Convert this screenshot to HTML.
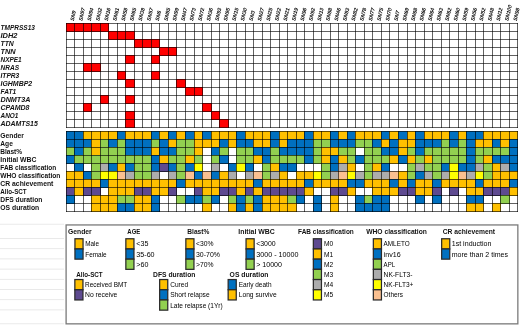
<!DOCTYPE html>
<html><head><meta charset="utf-8"><title>Mutation heatmap</title>
<style>html,body{margin:0;padding:0;background:#fff}body{width:520px;height:326px;overflow:hidden;font-family:"Liberation Sans",sans-serif}svg{display:block;will-change:transform}</style></head>
<body>
<svg width="520" height="326" viewBox="0 0 520 326" font-family="'Liberation Sans', sans-serif">
<rect width="520" height="326" fill="#fff"/>
<rect x="0" y="223.80" width="64" height="0.8" fill="#e4e4e4"/>
<rect x="0" y="238.10" width="64" height="0.8" fill="#e4e4e4"/>
<rect x="0" y="248.30" width="64" height="0.8" fill="#e4e4e4"/>
<rect x="0" y="258.50" width="64" height="0.8" fill="#e4e4e4"/>
<rect x="0" y="268.70" width="64" height="0.8" fill="#e4e4e4"/>
<rect x="0" y="278.90" width="64" height="0.8" fill="#e4e4e4"/>
<rect x="0" y="289.10" width="64" height="0.8" fill="#e4e4e4"/>
<rect x="0" y="299.30" width="64" height="0.8" fill="#e4e4e4"/>
<rect x="0" y="309.50" width="64" height="0.8" fill="#e4e4e4"/>
<rect x="0" y="323.40" width="64" height="0.8" fill="#e4e4e4"/>
<rect x="66" y="23" width="9" height="9" fill="#FF0000"/>
<rect x="74" y="23" width="10" height="9" fill="#FF0000"/>
<rect x="83" y="23" width="9" height="9" fill="#FF0000"/>
<rect x="91" y="23" width="10" height="9" fill="#FF0000"/>
<rect x="100" y="23" width="9" height="9" fill="#FF0000"/>
<rect x="108" y="31" width="10" height="9" fill="#FF0000"/>
<rect x="117" y="31" width="9" height="9" fill="#FF0000"/>
<rect x="125" y="31" width="10" height="9" fill="#FF0000"/>
<rect x="134" y="39" width="9" height="9" fill="#FF0000"/>
<rect x="142" y="39" width="10" height="9" fill="#FF0000"/>
<rect x="151" y="39" width="9" height="9" fill="#FF0000"/>
<rect x="159" y="47" width="10" height="9" fill="#FF0000"/>
<rect x="168" y="47" width="9" height="9" fill="#FF0000"/>
<rect x="125" y="55" width="10" height="9" fill="#FF0000"/>
<rect x="151" y="55" width="9" height="9" fill="#FF0000"/>
<rect x="83" y="63" width="9" height="9" fill="#FF0000"/>
<rect x="91" y="63" width="10" height="9" fill="#FF0000"/>
<rect x="117" y="71" width="9" height="9" fill="#FF0000"/>
<rect x="151" y="71" width="9" height="9" fill="#FF0000"/>
<rect x="125" y="79" width="10" height="9" fill="#FF0000"/>
<rect x="176" y="79" width="10" height="9" fill="#FF0000"/>
<rect x="185" y="87" width="10" height="9" fill="#FF0000"/>
<rect x="194" y="87" width="9" height="9" fill="#FF0000"/>
<rect x="100" y="95" width="9" height="9" fill="#FF0000"/>
<rect x="125" y="95" width="10" height="9" fill="#FF0000"/>
<rect x="83" y="103" width="9" height="9" fill="#FF0000"/>
<rect x="202" y="103" width="10" height="9" fill="#FF0000"/>
<rect x="125" y="111" width="10" height="9" fill="#FF0000"/>
<rect x="211" y="111" width="9" height="9" fill="#FF0000"/>
<rect x="125" y="119" width="10" height="9" fill="#FF0000"/>
<rect x="219" y="119" width="10" height="9" fill="#FF0000"/>
<path d="M66.50 23.00V128.00M74.50 23.00V128.00M83.50 23.00V128.00M91.50 23.00V128.00M100.50 23.00V128.00M108.50 23.00V128.00M117.50 23.00V128.00M125.50 23.00V128.00M134.50 23.00V128.00M142.50 23.00V128.00M151.50 23.00V128.00M159.50 23.00V128.00M168.50 23.00V128.00M176.50 23.00V128.00M185.50 23.00V128.00M194.50 23.00V128.00M202.50 23.00V128.00M211.50 23.00V128.00M219.50 23.00V128.00M228.50 23.00V128.00M236.50 23.00V128.00M245.50 23.00V128.00M253.50 23.00V128.00M262.50 23.00V128.00M270.50 23.00V128.00M279.50 23.00V128.00M287.50 23.00V128.00M296.50 23.00V128.00M304.50 23.00V128.00M313.50 23.00V128.00M321.50 23.00V128.00M330.50 23.00V128.00M338.50 23.00V128.00M347.50 23.00V128.00M355.50 23.00V128.00M364.50 23.00V128.00M372.50 23.00V128.00M381.50 23.00V128.00M389.50 23.00V128.00M398.50 23.00V128.00M407.50 23.00V128.00M415.50 23.00V128.00M424.50 23.00V128.00M432.50 23.00V128.00M441.50 23.00V128.00M449.50 23.00V128.00M458.50 23.00V128.00M466.50 23.00V128.00M475.50 23.00V128.00M483.50 23.00V128.00M492.50 23.00V128.00M500.50 23.00V128.00M509.50 23.00V128.00M517.50 23.00V128.00M66.00 23.50H518.00M66.00 31.50H518.00M66.00 39.50H518.00M66.00 47.50H518.00M66.00 55.50H518.00M66.00 63.50H518.00M66.00 71.50H518.00M66.00 79.50H518.00M66.00 87.50H518.00M66.00 95.50H518.00M66.00 103.50H518.00M66.00 111.50H518.00M66.00 119.50H518.00M66.00 127.50H518.00" stroke="#000" stroke-opacity="0.62" stroke-width="1" fill="none"/>
<rect x="66" y="131" width="9" height="9" fill="#0070C0"/>
<rect x="74" y="131" width="10" height="9" fill="#0070C0"/>
<rect x="83" y="131" width="9" height="9" fill="#FFC000"/>
<rect x="91" y="131" width="10" height="9" fill="#FFC000"/>
<rect x="100" y="131" width="9" height="9" fill="#FFC000"/>
<rect x="108" y="131" width="10" height="9" fill="#FFC000"/>
<rect x="117" y="131" width="9" height="9" fill="#0070C0"/>
<rect x="125" y="131" width="10" height="9" fill="#FFC000"/>
<rect x="134" y="131" width="9" height="9" fill="#FFC000"/>
<rect x="142" y="131" width="10" height="9" fill="#FFC000"/>
<rect x="151" y="131" width="9" height="9" fill="#0070C0"/>
<rect x="159" y="131" width="10" height="9" fill="#FFC000"/>
<rect x="168" y="131" width="9" height="9" fill="#0070C0"/>
<rect x="176" y="131" width="10" height="9" fill="#FFC000"/>
<rect x="185" y="131" width="10" height="9" fill="#0070C0"/>
<rect x="194" y="131" width="9" height="9" fill="#FFC000"/>
<rect x="202" y="131" width="10" height="9" fill="#0070C0"/>
<rect x="211" y="131" width="9" height="9" fill="#FFC000"/>
<rect x="219" y="131" width="10" height="9" fill="#FFC000"/>
<rect x="228" y="131" width="9" height="9" fill="#FFC000"/>
<rect x="236" y="131" width="10" height="9" fill="#0070C0"/>
<rect x="245" y="131" width="9" height="9" fill="#FFC000"/>
<rect x="253" y="131" width="10" height="9" fill="#FFC000"/>
<rect x="262" y="131" width="9" height="9" fill="#FFC000"/>
<rect x="270" y="131" width="10" height="9" fill="#0070C0"/>
<rect x="279" y="131" width="9" height="9" fill="#FFC000"/>
<rect x="287" y="131" width="10" height="9" fill="#FFC000"/>
<rect x="296" y="131" width="9" height="9" fill="#FFC000"/>
<rect x="304" y="131" width="10" height="9" fill="#0070C0"/>
<rect x="313" y="131" width="9" height="9" fill="#FFC000"/>
<rect x="321" y="131" width="10" height="9" fill="#FFC000"/>
<rect x="330" y="131" width="9" height="9" fill="#0070C0"/>
<rect x="338" y="131" width="10" height="9" fill="#FFC000"/>
<rect x="347" y="131" width="9" height="9" fill="#0070C0"/>
<rect x="355" y="131" width="10" height="9" fill="#FFC000"/>
<rect x="364" y="131" width="9" height="9" fill="#FFC000"/>
<rect x="372" y="131" width="10" height="9" fill="#FFC000"/>
<rect x="381" y="131" width="9" height="9" fill="#0070C0"/>
<rect x="389" y="131" width="10" height="9" fill="#FFC000"/>
<rect x="398" y="131" width="10" height="9" fill="#0070C0"/>
<rect x="407" y="131" width="9" height="9" fill="#FFC000"/>
<rect x="415" y="131" width="10" height="9" fill="#0070C0"/>
<rect x="424" y="131" width="9" height="9" fill="#FFC000"/>
<rect x="432" y="131" width="10" height="9" fill="#FFC000"/>
<rect x="441" y="131" width="9" height="9" fill="#FFC000"/>
<rect x="449" y="131" width="10" height="9" fill="#0070C0"/>
<rect x="458" y="131" width="9" height="9" fill="#FFC000"/>
<rect x="466" y="131" width="10" height="9" fill="#0070C0"/>
<rect x="475" y="131" width="9" height="9" fill="#0070C0"/>
<rect x="483" y="131" width="10" height="9" fill="#FFC000"/>
<rect x="492" y="131" width="9" height="9" fill="#FFC000"/>
<rect x="500" y="131" width="10" height="9" fill="#FFC000"/>
<rect x="509" y="131" width="9" height="9" fill="#FFC000"/>
<rect x="66" y="139" width="9" height="9" fill="#0070C0"/>
<rect x="74" y="139" width="10" height="9" fill="#0070C0"/>
<rect x="83" y="139" width="9" height="9" fill="#0070C0"/>
<rect x="91" y="139" width="10" height="9" fill="#FFC000"/>
<rect x="100" y="139" width="9" height="9" fill="#92D050"/>
<rect x="108" y="139" width="10" height="9" fill="#0070C0"/>
<rect x="117" y="139" width="9" height="9" fill="#92D050"/>
<rect x="125" y="139" width="10" height="9" fill="#0070C0"/>
<rect x="134" y="139" width="9" height="9" fill="#0070C0"/>
<rect x="142" y="139" width="10" height="9" fill="#0070C0"/>
<rect x="151" y="139" width="9" height="9" fill="#92D050"/>
<rect x="159" y="139" width="10" height="9" fill="#0070C0"/>
<rect x="168" y="139" width="9" height="9" fill="#FFC000"/>
<rect x="176" y="139" width="10" height="9" fill="#92D050"/>
<rect x="185" y="139" width="10" height="9" fill="#92D050"/>
<rect x="194" y="139" width="9" height="9" fill="#FFC000"/>
<rect x="202" y="139" width="10" height="9" fill="#FFC000"/>
<rect x="211" y="139" width="9" height="9" fill="#FFC000"/>
<rect x="219" y="139" width="10" height="9" fill="#0070C0"/>
<rect x="228" y="139" width="9" height="9" fill="#FFC000"/>
<rect x="236" y="139" width="10" height="9" fill="#0070C0"/>
<rect x="245" y="139" width="9" height="9" fill="#0070C0"/>
<rect x="253" y="139" width="10" height="9" fill="#FFC000"/>
<rect x="262" y="139" width="9" height="9" fill="#FFC000"/>
<rect x="270" y="139" width="10" height="9" fill="#0070C0"/>
<rect x="279" y="139" width="9" height="9" fill="#FFC000"/>
<rect x="287" y="139" width="10" height="9" fill="#0070C0"/>
<rect x="296" y="139" width="9" height="9" fill="#0070C0"/>
<rect x="304" y="139" width="10" height="9" fill="#0070C0"/>
<rect x="313" y="139" width="9" height="9" fill="#92D050"/>
<rect x="321" y="139" width="10" height="9" fill="#92D050"/>
<rect x="330" y="139" width="9" height="9" fill="#0070C0"/>
<rect x="338" y="139" width="10" height="9" fill="#0070C0"/>
<rect x="347" y="139" width="9" height="9" fill="#0070C0"/>
<rect x="355" y="139" width="10" height="9" fill="#92D050"/>
<rect x="364" y="139" width="9" height="9" fill="#92D050"/>
<rect x="372" y="139" width="10" height="9" fill="#0070C0"/>
<rect x="381" y="139" width="9" height="9" fill="#FFC000"/>
<rect x="389" y="139" width="10" height="9" fill="#0070C0"/>
<rect x="398" y="139" width="10" height="9" fill="#FFC000"/>
<rect x="407" y="139" width="9" height="9" fill="#FFC000"/>
<rect x="415" y="139" width="10" height="9" fill="#0070C0"/>
<rect x="424" y="139" width="9" height="9" fill="#0070C0"/>
<rect x="432" y="139" width="10" height="9" fill="#0070C0"/>
<rect x="441" y="139" width="9" height="9" fill="#92D050"/>
<rect x="449" y="139" width="10" height="9" fill="#0070C0"/>
<rect x="458" y="139" width="9" height="9" fill="#92D050"/>
<rect x="466" y="139" width="10" height="9" fill="#0070C0"/>
<rect x="475" y="139" width="9" height="9" fill="#FFC000"/>
<rect x="483" y="139" width="10" height="9" fill="#FFC000"/>
<rect x="492" y="139" width="9" height="9" fill="#0070C0"/>
<rect x="500" y="139" width="10" height="9" fill="#FFC000"/>
<rect x="509" y="139" width="9" height="9" fill="#0070C0"/>
<rect x="66" y="147" width="9" height="9" fill="#92D050"/>
<rect x="74" y="147" width="10" height="9" fill="#0070C0"/>
<rect x="83" y="147" width="9" height="9" fill="#92D050"/>
<rect x="91" y="147" width="10" height="9" fill="#FFC000"/>
<rect x="100" y="147" width="9" height="9" fill="#92D050"/>
<rect x="108" y="147" width="10" height="9" fill="#92D050"/>
<rect x="117" y="147" width="9" height="9" fill="#92D050"/>
<rect x="125" y="147" width="10" height="9" fill="#0070C0"/>
<rect x="134" y="147" width="9" height="9" fill="#0070C0"/>
<rect x="142" y="147" width="10" height="9" fill="#0070C0"/>
<rect x="151" y="147" width="9" height="9" fill="#FFC000"/>
<rect x="159" y="147" width="10" height="9" fill="#0070C0"/>
<rect x="168" y="147" width="9" height="9" fill="#0070C0"/>
<rect x="176" y="147" width="10" height="9" fill="#92D050"/>
<rect x="185" y="147" width="10" height="9" fill="#92D050"/>
<rect x="194" y="147" width="9" height="9" fill="#FFC000"/>
<rect x="211" y="147" width="9" height="9" fill="#0070C0"/>
<rect x="219" y="147" width="10" height="9" fill="#92D050"/>
<rect x="236" y="147" width="10" height="9" fill="#92D050"/>
<rect x="245" y="147" width="9" height="9" fill="#92D050"/>
<rect x="253" y="147" width="10" height="9" fill="#0070C0"/>
<rect x="262" y="147" width="9" height="9" fill="#0070C0"/>
<rect x="270" y="147" width="10" height="9" fill="#92D050"/>
<rect x="279" y="147" width="9" height="9" fill="#0070C0"/>
<rect x="287" y="147" width="10" height="9" fill="#0070C0"/>
<rect x="296" y="147" width="9" height="9" fill="#0070C0"/>
<rect x="304" y="147" width="10" height="9" fill="#0070C0"/>
<rect x="313" y="147" width="9" height="9" fill="#92D050"/>
<rect x="321" y="147" width="10" height="9" fill="#FFC000"/>
<rect x="330" y="147" width="9" height="9" fill="#FFC000"/>
<rect x="338" y="147" width="10" height="9" fill="#92D050"/>
<rect x="347" y="147" width="9" height="9" fill="#92D050"/>
<rect x="364" y="147" width="9" height="9" fill="#92D050"/>
<rect x="372" y="147" width="10" height="9" fill="#92D050"/>
<rect x="381" y="147" width="9" height="9" fill="#0070C0"/>
<rect x="389" y="147" width="10" height="9" fill="#0070C0"/>
<rect x="398" y="147" width="10" height="9" fill="#FFC000"/>
<rect x="407" y="147" width="9" height="9" fill="#92D050"/>
<rect x="415" y="147" width="10" height="9" fill="#0070C0"/>
<rect x="424" y="147" width="9" height="9" fill="#92D050"/>
<rect x="432" y="147" width="10" height="9" fill="#92D050"/>
<rect x="441" y="147" width="9" height="9" fill="#92D050"/>
<rect x="449" y="147" width="10" height="9" fill="#92D050"/>
<rect x="458" y="147" width="9" height="9" fill="#92D050"/>
<rect x="466" y="147" width="10" height="9" fill="#0070C0"/>
<rect x="475" y="147" width="9" height="9" fill="#92D050"/>
<rect x="483" y="147" width="10" height="9" fill="#92D050"/>
<rect x="492" y="147" width="9" height="9" fill="#92D050"/>
<rect x="500" y="147" width="10" height="9" fill="#92D050"/>
<rect x="509" y="147" width="9" height="9" fill="#0070C0"/>
<rect x="66" y="155" width="9" height="9" fill="#0070C0"/>
<rect x="74" y="155" width="10" height="9" fill="#92D050"/>
<rect x="83" y="155" width="9" height="9" fill="#92D050"/>
<rect x="91" y="155" width="10" height="9" fill="#92D050"/>
<rect x="100" y="155" width="9" height="9" fill="#92D050"/>
<rect x="108" y="155" width="10" height="9" fill="#92D050"/>
<rect x="117" y="155" width="9" height="9" fill="#92D050"/>
<rect x="125" y="155" width="10" height="9" fill="#92D050"/>
<rect x="134" y="155" width="9" height="9" fill="#92D050"/>
<rect x="142" y="155" width="10" height="9" fill="#92D050"/>
<rect x="151" y="155" width="9" height="9" fill="#0070C0"/>
<rect x="159" y="155" width="10" height="9" fill="#FFC000"/>
<rect x="168" y="155" width="9" height="9" fill="#92D050"/>
<rect x="176" y="155" width="10" height="9" fill="#92D050"/>
<rect x="185" y="155" width="10" height="9" fill="#FFC000"/>
<rect x="194" y="155" width="9" height="9" fill="#92D050"/>
<rect x="211" y="155" width="9" height="9" fill="#92D050"/>
<rect x="219" y="155" width="10" height="9" fill="#0070C0"/>
<rect x="236" y="155" width="10" height="9" fill="#92D050"/>
<rect x="245" y="155" width="9" height="9" fill="#92D050"/>
<rect x="253" y="155" width="10" height="9" fill="#FFC000"/>
<rect x="262" y="155" width="9" height="9" fill="#0070C0"/>
<rect x="270" y="155" width="10" height="9" fill="#92D050"/>
<rect x="279" y="155" width="9" height="9" fill="#92D050"/>
<rect x="287" y="155" width="10" height="9" fill="#92D050"/>
<rect x="296" y="155" width="9" height="9" fill="#92D050"/>
<rect x="304" y="155" width="10" height="9" fill="#0070C0"/>
<rect x="313" y="155" width="9" height="9" fill="#92D050"/>
<rect x="321" y="155" width="10" height="9" fill="#FFC000"/>
<rect x="330" y="155" width="9" height="9" fill="#0070C0"/>
<rect x="338" y="155" width="10" height="9" fill="#FFC000"/>
<rect x="347" y="155" width="9" height="9" fill="#92D050"/>
<rect x="355" y="155" width="10" height="9" fill="#0070C0"/>
<rect x="364" y="155" width="9" height="9" fill="#92D050"/>
<rect x="372" y="155" width="10" height="9" fill="#92D050"/>
<rect x="381" y="155" width="9" height="9" fill="#92D050"/>
<rect x="389" y="155" width="10" height="9" fill="#FFC000"/>
<rect x="398" y="155" width="10" height="9" fill="#0070C0"/>
<rect x="407" y="155" width="9" height="9" fill="#FFC000"/>
<rect x="415" y="155" width="10" height="9" fill="#92D050"/>
<rect x="424" y="155" width="9" height="9" fill="#FFC000"/>
<rect x="432" y="155" width="10" height="9" fill="#92D050"/>
<rect x="441" y="155" width="9" height="9" fill="#92D050"/>
<rect x="449" y="155" width="10" height="9" fill="#92D050"/>
<rect x="458" y="155" width="9" height="9" fill="#92D050"/>
<rect x="466" y="155" width="10" height="9" fill="#0070C0"/>
<rect x="475" y="155" width="9" height="9" fill="#92D050"/>
<rect x="483" y="155" width="10" height="9" fill="#FFC000"/>
<rect x="492" y="155" width="9" height="9" fill="#0070C0"/>
<rect x="500" y="155" width="10" height="9" fill="#0070C0"/>
<rect x="509" y="155" width="9" height="9" fill="#0070C0"/>
<rect x="74" y="163" width="10" height="9" fill="#0070C0"/>
<rect x="91" y="163" width="10" height="9" fill="#92D050"/>
<rect x="100" y="163" width="9" height="9" fill="#ADADAD"/>
<rect x="108" y="163" width="10" height="9" fill="#0070C0"/>
<rect x="117" y="163" width="9" height="9" fill="#FFC000"/>
<rect x="125" y="163" width="10" height="9" fill="#0070C0"/>
<rect x="134" y="163" width="9" height="9" fill="#92D050"/>
<rect x="142" y="163" width="10" height="9" fill="#92D050"/>
<rect x="151" y="163" width="9" height="9" fill="#0070C0"/>
<rect x="159" y="163" width="10" height="9" fill="#5E4A90"/>
<rect x="168" y="163" width="9" height="9" fill="#0070C0"/>
<rect x="176" y="163" width="10" height="9" fill="#92D050"/>
<rect x="185" y="163" width="10" height="9" fill="#0070C0"/>
<rect x="194" y="163" width="9" height="9" fill="#FFFF00"/>
<rect x="211" y="163" width="9" height="9" fill="#ADADAD"/>
<rect x="228" y="163" width="9" height="9" fill="#0070C0"/>
<rect x="236" y="163" width="10" height="9" fill="#FFFF00"/>
<rect x="245" y="163" width="9" height="9" fill="#0070C0"/>
<rect x="262" y="163" width="9" height="9" fill="#92D050"/>
<rect x="270" y="163" width="10" height="9" fill="#FFC000"/>
<rect x="279" y="163" width="9" height="9" fill="#0070C0"/>
<rect x="287" y="163" width="10" height="9" fill="#0070C0"/>
<rect x="321" y="163" width="10" height="9" fill="#92D050"/>
<rect x="330" y="163" width="9" height="9" fill="#0070C0"/>
<rect x="338" y="163" width="10" height="9" fill="#ADADAD"/>
<rect x="347" y="163" width="9" height="9" fill="#FFC000"/>
<rect x="364" y="163" width="9" height="9" fill="#92D050"/>
<rect x="372" y="163" width="10" height="9" fill="#FFC000"/>
<rect x="381" y="163" width="9" height="9" fill="#0070C0"/>
<rect x="407" y="163" width="9" height="9" fill="#92D050"/>
<rect x="415" y="163" width="10" height="9" fill="#ADADAD"/>
<rect x="424" y="163" width="9" height="9" fill="#92D050"/>
<rect x="432" y="163" width="10" height="9" fill="#92D050"/>
<rect x="441" y="163" width="9" height="9" fill="#0070C0"/>
<rect x="449" y="163" width="10" height="9" fill="#FFFF00"/>
<rect x="458" y="163" width="9" height="9" fill="#0070C0"/>
<rect x="466" y="163" width="10" height="9" fill="#0070C0"/>
<rect x="475" y="163" width="9" height="9" fill="#ADADAD"/>
<rect x="483" y="163" width="10" height="9" fill="#92D050"/>
<rect x="492" y="163" width="9" height="9" fill="#FFC000"/>
<rect x="500" y="163" width="10" height="9" fill="#ADADAD"/>
<rect x="509" y="163" width="9" height="9" fill="#0070C0"/>
<rect x="66" y="171" width="9" height="9" fill="#FFC000"/>
<rect x="74" y="171" width="10" height="9" fill="#FFC000"/>
<rect x="83" y="171" width="9" height="9" fill="#0070C0"/>
<rect x="91" y="171" width="10" height="9" fill="#92D050"/>
<rect x="100" y="171" width="9" height="9" fill="#FFFF00"/>
<rect x="108" y="171" width="10" height="9" fill="#FFFF00"/>
<rect x="117" y="171" width="9" height="9" fill="#FAC090"/>
<rect x="125" y="171" width="10" height="9" fill="#ADADAD"/>
<rect x="134" y="171" width="9" height="9" fill="#92D050"/>
<rect x="142" y="171" width="10" height="9" fill="#92D050"/>
<rect x="151" y="171" width="9" height="9" fill="#ADADAD"/>
<rect x="168" y="171" width="9" height="9" fill="#ADADAD"/>
<rect x="176" y="171" width="10" height="9" fill="#92D050"/>
<rect x="185" y="171" width="10" height="9" fill="#FAC090"/>
<rect x="194" y="171" width="9" height="9" fill="#0070C0"/>
<rect x="202" y="171" width="10" height="9" fill="#FAC090"/>
<rect x="211" y="171" width="9" height="9" fill="#0070C0"/>
<rect x="219" y="171" width="10" height="9" fill="#FFC000"/>
<rect x="228" y="171" width="9" height="9" fill="#ADADAD"/>
<rect x="245" y="171" width="9" height="9" fill="#ADADAD"/>
<rect x="253" y="171" width="10" height="9" fill="#FAC090"/>
<rect x="262" y="171" width="9" height="9" fill="#92D050"/>
<rect x="270" y="171" width="10" height="9" fill="#ADADAD"/>
<rect x="279" y="171" width="9" height="9" fill="#FFC000"/>
<rect x="296" y="171" width="9" height="9" fill="#FFC000"/>
<rect x="304" y="171" width="10" height="9" fill="#FFC000"/>
<rect x="313" y="171" width="9" height="9" fill="#FFFF00"/>
<rect x="321" y="171" width="10" height="9" fill="#92D050"/>
<rect x="330" y="171" width="9" height="9" fill="#ADADAD"/>
<rect x="338" y="171" width="10" height="9" fill="#FAC090"/>
<rect x="347" y="171" width="9" height="9" fill="#FFFF00"/>
<rect x="355" y="171" width="10" height="9" fill="#ADADAD"/>
<rect x="364" y="171" width="9" height="9" fill="#92D050"/>
<rect x="372" y="171" width="10" height="9" fill="#ADADAD"/>
<rect x="381" y="171" width="9" height="9" fill="#ADADAD"/>
<rect x="389" y="171" width="10" height="9" fill="#FAC090"/>
<rect x="398" y="171" width="10" height="9" fill="#FFC000"/>
<rect x="407" y="171" width="9" height="9" fill="#92D050"/>
<rect x="415" y="171" width="10" height="9" fill="#0070C0"/>
<rect x="424" y="171" width="9" height="9" fill="#ADADAD"/>
<rect x="432" y="171" width="10" height="9" fill="#92D050"/>
<rect x="441" y="171" width="9" height="9" fill="#ADADAD"/>
<rect x="449" y="171" width="10" height="9" fill="#FFFF00"/>
<rect x="458" y="171" width="9" height="9" fill="#FAC090"/>
<rect x="466" y="171" width="10" height="9" fill="#ADADAD"/>
<rect x="475" y="171" width="9" height="9" fill="#FFFF00"/>
<rect x="483" y="171" width="10" height="9" fill="#92D050"/>
<rect x="492" y="171" width="9" height="9" fill="#FFC000"/>
<rect x="500" y="171" width="10" height="9" fill="#FFC000"/>
<rect x="509" y="171" width="9" height="9" fill="#FFC000"/>
<rect x="66" y="179" width="9" height="9" fill="#FFC000"/>
<rect x="74" y="179" width="10" height="9" fill="#FFC000"/>
<rect x="83" y="179" width="9" height="9" fill="#FFC000"/>
<rect x="91" y="179" width="10" height="9" fill="#FFC000"/>
<rect x="100" y="179" width="9" height="9" fill="#0070C0"/>
<rect x="108" y="179" width="10" height="9" fill="#FFC000"/>
<rect x="117" y="179" width="9" height="9" fill="#FFC000"/>
<rect x="125" y="179" width="10" height="9" fill="#FFC000"/>
<rect x="134" y="179" width="9" height="9" fill="#FFC000"/>
<rect x="142" y="179" width="10" height="9" fill="#FFC000"/>
<rect x="151" y="179" width="9" height="9" fill="#FFC000"/>
<rect x="159" y="179" width="10" height="9" fill="#FFC000"/>
<rect x="168" y="179" width="9" height="9" fill="#FFC000"/>
<rect x="176" y="179" width="10" height="9" fill="#0070C0"/>
<rect x="185" y="179" width="10" height="9" fill="#FFC000"/>
<rect x="194" y="179" width="9" height="9" fill="#FFC000"/>
<rect x="202" y="179" width="10" height="9" fill="#FFC000"/>
<rect x="211" y="179" width="9" height="9" fill="#FFC000"/>
<rect x="219" y="179" width="10" height="9" fill="#FFC000"/>
<rect x="228" y="179" width="9" height="9" fill="#FFC000"/>
<rect x="236" y="179" width="10" height="9" fill="#FFC000"/>
<rect x="245" y="179" width="9" height="9" fill="#FFC000"/>
<rect x="253" y="179" width="10" height="9" fill="#0070C0"/>
<rect x="262" y="179" width="9" height="9" fill="#FFC000"/>
<rect x="270" y="179" width="10" height="9" fill="#FFC000"/>
<rect x="279" y="179" width="9" height="9" fill="#FFC000"/>
<rect x="287" y="179" width="10" height="9" fill="#FFC000"/>
<rect x="296" y="179" width="9" height="9" fill="#FFC000"/>
<rect x="304" y="179" width="10" height="9" fill="#0070C0"/>
<rect x="313" y="179" width="9" height="9" fill="#FFC000"/>
<rect x="321" y="179" width="10" height="9" fill="#FFC000"/>
<rect x="330" y="179" width="9" height="9" fill="#FFC000"/>
<rect x="338" y="179" width="10" height="9" fill="#FFC000"/>
<rect x="347" y="179" width="9" height="9" fill="#0070C0"/>
<rect x="355" y="179" width="10" height="9" fill="#0070C0"/>
<rect x="364" y="179" width="9" height="9" fill="#FFC000"/>
<rect x="372" y="179" width="10" height="9" fill="#FFC000"/>
<rect x="381" y="179" width="9" height="9" fill="#FFC000"/>
<rect x="389" y="179" width="10" height="9" fill="#0070C0"/>
<rect x="398" y="179" width="10" height="9" fill="#FFC000"/>
<rect x="407" y="179" width="9" height="9" fill="#0070C0"/>
<rect x="415" y="179" width="10" height="9" fill="#FFC000"/>
<rect x="424" y="179" width="9" height="9" fill="#FFC000"/>
<rect x="432" y="179" width="10" height="9" fill="#0070C0"/>
<rect x="441" y="179" width="9" height="9" fill="#FFC000"/>
<rect x="449" y="179" width="10" height="9" fill="#FFC000"/>
<rect x="458" y="179" width="9" height="9" fill="#FFC000"/>
<rect x="466" y="179" width="10" height="9" fill="#FFC000"/>
<rect x="475" y="179" width="9" height="9" fill="#0070C0"/>
<rect x="483" y="179" width="10" height="9" fill="#FFC000"/>
<rect x="492" y="179" width="9" height="9" fill="#FFC000"/>
<rect x="500" y="179" width="10" height="9" fill="#FFC000"/>
<rect x="509" y="179" width="9" height="9" fill="#0070C0"/>
<rect x="66" y="187" width="9" height="9" fill="#5E4A90"/>
<rect x="74" y="187" width="10" height="9" fill="#FFC000"/>
<rect x="83" y="187" width="9" height="9" fill="#5E4A90"/>
<rect x="91" y="187" width="10" height="9" fill="#5E4A90"/>
<rect x="108" y="187" width="10" height="9" fill="#FFC000"/>
<rect x="117" y="187" width="9" height="9" fill="#FFC000"/>
<rect x="125" y="187" width="10" height="9" fill="#FFC000"/>
<rect x="134" y="187" width="9" height="9" fill="#5E4A90"/>
<rect x="142" y="187" width="10" height="9" fill="#5E4A90"/>
<rect x="151" y="187" width="9" height="9" fill="#FFC000"/>
<rect x="159" y="187" width="10" height="9" fill="#FFC000"/>
<rect x="168" y="187" width="9" height="9" fill="#5E4A90"/>
<rect x="194" y="187" width="9" height="9" fill="#5E4A90"/>
<rect x="202" y="187" width="10" height="9" fill="#FFC000"/>
<rect x="211" y="187" width="9" height="9" fill="#FFC000"/>
<rect x="219" y="187" width="10" height="9" fill="#5E4A90"/>
<rect x="228" y="187" width="9" height="9" fill="#5E4A90"/>
<rect x="236" y="187" width="10" height="9" fill="#FFC000"/>
<rect x="245" y="187" width="9" height="9" fill="#5E4A90"/>
<rect x="253" y="187" width="10" height="9" fill="#FFC000"/>
<rect x="262" y="187" width="9" height="9" fill="#5E4A90"/>
<rect x="270" y="187" width="10" height="9" fill="#5E4A90"/>
<rect x="279" y="187" width="9" height="9" fill="#5E4A90"/>
<rect x="287" y="187" width="10" height="9" fill="#5E4A90"/>
<rect x="296" y="187" width="9" height="9" fill="#5E4A90"/>
<rect x="304" y="187" width="10" height="9" fill="#FFC000"/>
<rect x="330" y="187" width="9" height="9" fill="#5E4A90"/>
<rect x="338" y="187" width="10" height="9" fill="#5E4A90"/>
<rect x="347" y="187" width="9" height="9" fill="#FFC000"/>
<rect x="372" y="187" width="10" height="9" fill="#FFC000"/>
<rect x="381" y="187" width="9" height="9" fill="#FFC000"/>
<rect x="389" y="187" width="10" height="9" fill="#FFC000"/>
<rect x="398" y="187" width="10" height="9" fill="#5E4A90"/>
<rect x="407" y="187" width="9" height="9" fill="#5E4A90"/>
<rect x="415" y="187" width="10" height="9" fill="#FFC000"/>
<rect x="424" y="187" width="9" height="9" fill="#FFC000"/>
<rect x="432" y="187" width="10" height="9" fill="#5E4A90"/>
<rect x="449" y="187" width="10" height="9" fill="#5E4A90"/>
<rect x="466" y="187" width="10" height="9" fill="#FFC000"/>
<rect x="475" y="187" width="9" height="9" fill="#FFC000"/>
<rect x="483" y="187" width="10" height="9" fill="#5E4A90"/>
<rect x="492" y="187" width="9" height="9" fill="#5E4A90"/>
<rect x="500" y="187" width="10" height="9" fill="#5E4A90"/>
<rect x="509" y="187" width="9" height="9" fill="#FFC000"/>
<rect x="66" y="195" width="9" height="9" fill="#0070C0"/>
<rect x="91" y="195" width="10" height="9" fill="#FFC000"/>
<rect x="100" y="195" width="9" height="9" fill="#FFC000"/>
<rect x="108" y="195" width="10" height="9" fill="#FFC000"/>
<rect x="117" y="195" width="9" height="9" fill="#92D050"/>
<rect x="125" y="195" width="10" height="9" fill="#92D050"/>
<rect x="134" y="195" width="9" height="9" fill="#FFC000"/>
<rect x="142" y="195" width="10" height="9" fill="#FFC000"/>
<rect x="151" y="195" width="9" height="9" fill="#0070C0"/>
<rect x="176" y="195" width="10" height="9" fill="#92D050"/>
<rect x="185" y="195" width="10" height="9" fill="#0070C0"/>
<rect x="194" y="195" width="9" height="9" fill="#0070C0"/>
<rect x="202" y="195" width="10" height="9" fill="#92D050"/>
<rect x="211" y="195" width="9" height="9" fill="#0070C0"/>
<rect x="228" y="195" width="9" height="9" fill="#92D050"/>
<rect x="236" y="195" width="10" height="9" fill="#0070C0"/>
<rect x="245" y="195" width="9" height="9" fill="#92D050"/>
<rect x="253" y="195" width="10" height="9" fill="#0070C0"/>
<rect x="262" y="195" width="9" height="9" fill="#FFC000"/>
<rect x="270" y="195" width="10" height="9" fill="#FFC000"/>
<rect x="279" y="195" width="9" height="9" fill="#FFC000"/>
<rect x="287" y="195" width="10" height="9" fill="#92D050"/>
<rect x="296" y="195" width="9" height="9" fill="#0070C0"/>
<rect x="313" y="195" width="9" height="9" fill="#0070C0"/>
<rect x="330" y="195" width="9" height="9" fill="#FFC000"/>
<rect x="355" y="195" width="10" height="9" fill="#0070C0"/>
<rect x="364" y="195" width="9" height="9" fill="#92D050"/>
<rect x="372" y="195" width="10" height="9" fill="#0070C0"/>
<rect x="381" y="195" width="9" height="9" fill="#0070C0"/>
<rect x="415" y="195" width="10" height="9" fill="#0070C0"/>
<rect x="432" y="195" width="10" height="9" fill="#0070C0"/>
<rect x="466" y="195" width="10" height="9" fill="#0070C0"/>
<rect x="475" y="195" width="9" height="9" fill="#0070C0"/>
<rect x="500" y="195" width="10" height="9" fill="#92D050"/>
<rect x="91" y="203" width="10" height="9" fill="#FFC000"/>
<rect x="100" y="203" width="9" height="9" fill="#FFC000"/>
<rect x="108" y="203" width="10" height="9" fill="#FFC000"/>
<rect x="117" y="203" width="9" height="9" fill="#0070C0"/>
<rect x="125" y="203" width="10" height="9" fill="#0070C0"/>
<rect x="134" y="203" width="9" height="9" fill="#FFC000"/>
<rect x="142" y="203" width="10" height="9" fill="#FFC000"/>
<rect x="151" y="203" width="9" height="9" fill="#0070C0"/>
<rect x="202" y="203" width="10" height="9" fill="#FFC000"/>
<rect x="228" y="203" width="9" height="9" fill="#FFC000"/>
<rect x="236" y="203" width="10" height="9" fill="#0070C0"/>
<rect x="245" y="203" width="9" height="9" fill="#FFC000"/>
<rect x="253" y="203" width="10" height="9" fill="#0070C0"/>
<rect x="262" y="203" width="9" height="9" fill="#FFC000"/>
<rect x="270" y="203" width="10" height="9" fill="#FFC000"/>
<rect x="279" y="203" width="9" height="9" fill="#FFC000"/>
<rect x="287" y="203" width="10" height="9" fill="#FFC000"/>
<rect x="313" y="203" width="9" height="9" fill="#0070C0"/>
<rect x="330" y="203" width="9" height="9" fill="#FFC000"/>
<rect x="355" y="203" width="10" height="9" fill="#0070C0"/>
<rect x="364" y="203" width="9" height="9" fill="#0070C0"/>
<rect x="372" y="203" width="10" height="9" fill="#0070C0"/>
<rect x="381" y="203" width="9" height="9" fill="#0070C0"/>
<rect x="466" y="203" width="10" height="9" fill="#FFC000"/>
<rect x="475" y="203" width="9" height="9" fill="#FFC000"/>
<rect x="492" y="203" width="9" height="9" fill="#FFC000"/>
<path d="M66.50 131.00V212M74.50 131.00V212M83.50 131.00V212M91.50 131.00V212M100.50 131.00V212M108.50 131.00V212M117.50 131.00V212M125.50 131.00V212M134.50 131.00V212M142.50 131.00V212M151.50 131.00V212M159.50 131.00V212M168.50 131.00V212M176.50 131.00V212M185.50 131.00V212M194.50 131.00V212M202.50 131.00V212M211.50 131.00V212M219.50 131.00V212M228.50 131.00V212M236.50 131.00V212M245.50 131.00V212M253.50 131.00V212M262.50 131.00V212M270.50 131.00V212M279.50 131.00V212M287.50 131.00V212M296.50 131.00V212M304.50 131.00V212M313.50 131.00V212M321.50 131.00V212M330.50 131.00V212M338.50 131.00V212M347.50 131.00V212M355.50 131.00V212M364.50 131.00V212M372.50 131.00V212M381.50 131.00V212M389.50 131.00V212M398.50 131.00V212M407.50 131.00V212M415.50 131.00V212M424.50 131.00V212M432.50 131.00V212M441.50 131.00V212M449.50 131.00V212M458.50 131.00V212M466.50 131.00V212M475.50 131.00V212M483.50 131.00V212M492.50 131.00V212M500.50 131.00V212M509.50 131.00V212M517.50 131.00V212M66.00 131.50H518.00M66.00 139.50H518.00M66.00 147.50H518.00M66.00 155.50H518.00M66.00 163.50H518.00M66.00 171.50H518.00M66.00 179.50H518.00M66.00 187.50H518.00M66.00 195.50H518.00M66.00 203.50H518.00M66.00 211.50H518.00" stroke="#000" stroke-opacity="0.62" stroke-width="1" fill="none"/>
<text x="0.5" y="30.32" font-size="8" font-weight="bold" font-style="italic" textLength="34.5" lengthAdjust="spacingAndGlyphs" fill="#111">TMPRSS13</text>
<text x="0.5" y="38.32" font-size="8" font-weight="bold" font-style="italic" textLength="17.0" lengthAdjust="spacingAndGlyphs" fill="#111">IDH2</text>
<text x="0.5" y="46.31" font-size="8" font-weight="bold" font-style="italic" textLength="13.3" lengthAdjust="spacingAndGlyphs" fill="#111">TTN</text>
<text x="0.5" y="54.30" font-size="8" font-weight="bold" font-style="italic" textLength="15.2" lengthAdjust="spacingAndGlyphs" fill="#111">TNN</text>
<text x="0.5" y="62.29" font-size="8" font-weight="bold" font-style="italic" textLength="21.2" lengthAdjust="spacingAndGlyphs" fill="#111">NXPE1</text>
<text x="0.5" y="70.28" font-size="8" font-weight="bold" font-style="italic" textLength="18.5" lengthAdjust="spacingAndGlyphs" fill="#111">NRAS</text>
<text x="0.5" y="78.28" font-size="8" font-weight="bold" font-style="italic" textLength="18.8" lengthAdjust="spacingAndGlyphs" fill="#111">ITPR3</text>
<text x="0.5" y="86.27" font-size="8" font-weight="bold" font-style="italic" textLength="31.7" lengthAdjust="spacingAndGlyphs" fill="#111">IGHMBP2</text>
<text x="0.5" y="94.26" font-size="8" font-weight="bold" font-style="italic" textLength="15.7" lengthAdjust="spacingAndGlyphs" fill="#111">FAT1</text>
<text x="0.5" y="102.25" font-size="8" font-weight="bold" font-style="italic" textLength="29.9" lengthAdjust="spacingAndGlyphs" fill="#111">DNMT3A</text>
<text x="0.5" y="110.25" font-size="8" font-weight="bold" font-style="italic" textLength="29.0" lengthAdjust="spacingAndGlyphs" fill="#111">CPAMD8</text>
<text x="0.5" y="118.24" font-size="8" font-weight="bold" font-style="italic" textLength="17.9" lengthAdjust="spacingAndGlyphs" fill="#111">ANO1</text>
<text x="0.5" y="126.23" font-size="8" font-weight="bold" font-style="italic" textLength="37.3" lengthAdjust="spacingAndGlyphs" fill="#111">ADAMTS15</text>
<text x="0.3" y="137.88" font-size="7.5" font-weight="bold" textLength="23.7" lengthAdjust="spacingAndGlyphs" fill="#111">Gender</text>
<text x="0.3" y="145.94" font-size="7.5" font-weight="bold" textLength="12.6" lengthAdjust="spacingAndGlyphs" fill="#111">Age</text>
<text x="0.3" y="154.00" font-size="7.5" font-weight="bold" textLength="21.8" lengthAdjust="spacingAndGlyphs" fill="#111">Blast%</text>
<text x="0.3" y="162.06" font-size="7.5" font-weight="bold" textLength="36.2" lengthAdjust="spacingAndGlyphs" fill="#111">Initial WBC</text>
<text x="0.3" y="170.12" font-size="7.5" font-weight="bold" textLength="55.9" lengthAdjust="spacingAndGlyphs" fill="#111">FAB classification</text>
<text x="0.3" y="178.18" font-size="7.5" font-weight="bold" textLength="60.1" lengthAdjust="spacingAndGlyphs" fill="#111">WHO classification</text>
<text x="0.3" y="186.24" font-size="7.5" font-weight="bold" textLength="53.1" lengthAdjust="spacingAndGlyphs" fill="#111">CR achievement</text>
<text x="0.3" y="194.30" font-size="7.5" font-weight="bold" textLength="26.4" lengthAdjust="spacingAndGlyphs" fill="#111">Allo-SCT</text>
<text x="0.3" y="202.36" font-size="7.5" font-weight="bold" textLength="42.1" lengthAdjust="spacingAndGlyphs" fill="#111">DFS duration</text>
<text x="0.3" y="210.42" font-size="7.5" font-weight="bold" textLength="38.9" lengthAdjust="spacingAndGlyphs" fill="#111">OS duration</text>
<text transform="translate(73.66 21.20) rotate(-77)" font-size="5.3" font-weight="bold" font-style="italic" fill="#000">SN9</text>
<text transform="translate(82.18 21.20) rotate(-77)" font-size="5.3" font-weight="bold" font-style="italic" fill="#000">SN97</text>
<text transform="translate(90.70 21.20) rotate(-77)" font-size="5.3" font-weight="bold" font-style="italic" fill="#000">SN94</text>
<text transform="translate(99.22 21.20) rotate(-77)" font-size="5.3" font-weight="bold" font-style="italic" fill="#000">SN32</text>
<text transform="translate(107.74 21.20) rotate(-77)" font-size="5.3" font-weight="bold" font-style="italic" fill="#000">SN16</text>
<text transform="translate(116.27 21.20) rotate(-77)" font-size="5.3" font-weight="bold" font-style="italic" fill="#000">SN61</text>
<text transform="translate(124.79 21.20) rotate(-77)" font-size="5.3" font-weight="bold" font-style="italic" fill="#000">SN58</text>
<text transform="translate(133.31 21.20) rotate(-77)" font-size="5.3" font-weight="bold" font-style="italic" fill="#000">SN65</text>
<text transform="translate(141.83 21.20) rotate(-77)" font-size="5.3" font-weight="bold" font-style="italic" fill="#000">SN38</text>
<text transform="translate(150.35 21.20) rotate(-77)" font-size="5.3" font-weight="bold" font-style="italic" fill="#000">SN57</text>
<text transform="translate(158.87 21.20) rotate(-77)" font-size="5.3" font-weight="bold" font-style="italic" fill="#000">SN6</text>
<text transform="translate(167.39 21.20) rotate(-77)" font-size="5.3" font-weight="bold" font-style="italic" fill="#000">SN85</text>
<text transform="translate(175.91 21.20) rotate(-77)" font-size="5.3" font-weight="bold" font-style="italic" fill="#000">SN99</text>
<text transform="translate(184.43 21.20) rotate(-77)" font-size="5.3" font-weight="bold" font-style="italic" fill="#000">SN47</text>
<text transform="translate(192.95 21.20) rotate(-77)" font-size="5.3" font-weight="bold" font-style="italic" fill="#000">SN73</text>
<text transform="translate(201.48 21.20) rotate(-77)" font-size="5.3" font-weight="bold" font-style="italic" fill="#000">SN72</text>
<text transform="translate(210.00 21.20) rotate(-77)" font-size="5.3" font-weight="bold" font-style="italic" fill="#000">SN36</text>
<text transform="translate(218.52 21.20) rotate(-77)" font-size="5.3" font-weight="bold" font-style="italic" fill="#000">SN93</text>
<text transform="translate(227.04 21.20) rotate(-77)" font-size="5.3" font-weight="bold" font-style="italic" fill="#000">SN95</text>
<text transform="translate(235.56 21.20) rotate(-77)" font-size="5.3" font-weight="bold" font-style="italic" fill="#000">SN15</text>
<text transform="translate(244.08 21.20) rotate(-77)" font-size="5.3" font-weight="bold" font-style="italic" fill="#000">SN30</text>
<text transform="translate(252.60 21.20) rotate(-77)" font-size="5.3" font-weight="bold" font-style="italic" fill="#000">SN3</text>
<text transform="translate(261.12 21.20) rotate(-77)" font-size="5.3" font-weight="bold" font-style="italic" fill="#000">SN27</text>
<text transform="translate(269.64 21.20) rotate(-77)" font-size="5.3" font-weight="bold" font-style="italic" fill="#000">SN25</text>
<text transform="translate(278.16 21.20) rotate(-77)" font-size="5.3" font-weight="bold" font-style="italic" fill="#000">SN22</text>
<text transform="translate(286.69 21.20) rotate(-77)" font-size="5.3" font-weight="bold" font-style="italic" fill="#000">SN21</text>
<text transform="translate(295.21 21.20) rotate(-77)" font-size="5.3" font-weight="bold" font-style="italic" fill="#000">SN19</text>
<text transform="translate(303.73 21.20) rotate(-77)" font-size="5.3" font-weight="bold" font-style="italic" fill="#000">SN96</text>
<text transform="translate(312.25 21.20) rotate(-77)" font-size="5.3" font-weight="bold" font-style="italic" fill="#000">SN92</text>
<text transform="translate(320.77 21.20) rotate(-77)" font-size="5.3" font-weight="bold" font-style="italic" fill="#000">SN13</text>
<text transform="translate(329.29 21.20) rotate(-77)" font-size="5.3" font-weight="bold" font-style="italic" fill="#000">SN88</text>
<text transform="translate(337.81 21.20) rotate(-77)" font-size="5.3" font-weight="bold" font-style="italic" fill="#000">SN46</text>
<text transform="translate(346.33 21.20) rotate(-77)" font-size="5.3" font-weight="bold" font-style="italic" fill="#000">SN83</text>
<text transform="translate(354.85 21.20) rotate(-77)" font-size="5.3" font-weight="bold" font-style="italic" fill="#000">SN82</text>
<text transform="translate(363.37 21.20) rotate(-77)" font-size="5.3" font-weight="bold" font-style="italic" fill="#000">SN78</text>
<text transform="translate(371.90 21.20) rotate(-77)" font-size="5.3" font-weight="bold" font-style="italic" fill="#000">SN77</text>
<text transform="translate(380.42 21.20) rotate(-77)" font-size="5.3" font-weight="bold" font-style="italic" fill="#000">SN75</text>
<text transform="translate(388.94 21.20) rotate(-77)" font-size="5.3" font-weight="bold" font-style="italic" fill="#000">SN70</text>
<text transform="translate(397.46 21.20) rotate(-77)" font-size="5.3" font-weight="bold" font-style="italic" fill="#000">SN7</text>
<text transform="translate(405.98 21.20) rotate(-77)" font-size="5.3" font-weight="bold" font-style="italic" fill="#000">SN69</text>
<text transform="translate(414.50 21.20) rotate(-77)" font-size="5.3" font-weight="bold" font-style="italic" fill="#000">SN68</text>
<text transform="translate(423.02 21.20) rotate(-77)" font-size="5.3" font-weight="bold" font-style="italic" fill="#000">SN66</text>
<text transform="translate(431.54 21.20) rotate(-77)" font-size="5.3" font-weight="bold" font-style="italic" fill="#000">SN64</text>
<text transform="translate(440.06 21.20) rotate(-77)" font-size="5.3" font-weight="bold" font-style="italic" fill="#000">SN63</text>
<text transform="translate(448.58 21.20) rotate(-77)" font-size="5.3" font-weight="bold" font-style="italic" fill="#000">SN62</text>
<text transform="translate(457.11 21.20) rotate(-77)" font-size="5.3" font-weight="bold" font-style="italic" fill="#000">SN60</text>
<text transform="translate(465.63 21.20) rotate(-77)" font-size="5.3" font-weight="bold" font-style="italic" fill="#000">SN59</text>
<text transform="translate(474.15 21.20) rotate(-77)" font-size="5.3" font-weight="bold" font-style="italic" fill="#000">SN56</text>
<text transform="translate(482.67 21.20) rotate(-77)" font-size="5.3" font-weight="bold" font-style="italic" fill="#000">SN52</text>
<text transform="translate(491.19 21.20) rotate(-77)" font-size="5.3" font-weight="bold" font-style="italic" fill="#000">SN48</text>
<text transform="translate(499.71 21.20) rotate(-77)" font-size="5.3" font-weight="bold" font-style="italic" fill="#000">SN12</text>
<text transform="translate(508.23 21.20) rotate(-77)" font-size="5.3" font-weight="bold" font-style="italic" fill="#000">SN100</text>
<text transform="translate(516.75 21.20) rotate(-77)" font-size="5.3" font-weight="bold" font-style="italic" fill="#000">SN98</text>
<rect x="66.1" y="224.95" width="451.75" height="98.9" fill="#fff" stroke="#7a7a7a" stroke-width="1.3"/>
<text x="68.0" y="233.80" font-size="7.5" font-weight="bold" textLength="23.7" lengthAdjust="spacingAndGlyphs" fill="#111">Gender</text>
<rect x="74.95" y="238.75" width="8.10" height="10.20" fill="#FFC000" stroke="#2a2a2a" stroke-width="1.25"/>
<text x="85.2" y="246.45" font-size="7.7" textLength="13.8" lengthAdjust="spacingAndGlyphs" fill="#000">Male</text>
<rect x="74.95" y="248.95" width="8.10" height="10.20" fill="#0070C0" stroke="#2a2a2a" stroke-width="1.25"/>
<text x="85.2" y="256.65" font-size="7.7" textLength="21.5" lengthAdjust="spacingAndGlyphs" fill="#000">Female</text>
<text x="127.3" y="233.80" font-size="7.5" font-weight="bold" textLength="13.0" lengthAdjust="spacingAndGlyphs" fill="#111">AGE</text>
<rect x="125.85" y="238.75" width="8.10" height="10.20" fill="#FFC000" stroke="#2a2a2a" stroke-width="1.25"/>
<text x="136.3" y="246.45" font-size="7.7" textLength="12.1" lengthAdjust="spacingAndGlyphs" fill="#000">&lt;35</text>
<rect x="125.85" y="248.95" width="8.10" height="10.20" fill="#0070C0" stroke="#2a2a2a" stroke-width="1.25"/>
<text x="136.3" y="256.65" font-size="7.7" textLength="18.3" lengthAdjust="spacingAndGlyphs" fill="#000">35-60</text>
<rect x="125.85" y="259.15" width="8.10" height="10.20" fill="#92D050" stroke="#2a2a2a" stroke-width="1.25"/>
<text x="136.3" y="266.85" font-size="7.7" textLength="12.1" lengthAdjust="spacingAndGlyphs" fill="#000">&gt;60</text>
<text x="187.3" y="233.80" font-size="7.5" font-weight="bold" textLength="22.0" lengthAdjust="spacingAndGlyphs" fill="#111">Blast%</text>
<rect x="185.85" y="238.75" width="8.10" height="10.20" fill="#FFC000" stroke="#2a2a2a" stroke-width="1.25"/>
<text x="196.0" y="246.45" font-size="7.7" textLength="17.5" lengthAdjust="spacingAndGlyphs" fill="#000">&lt;30%</text>
<rect x="185.85" y="248.95" width="8.10" height="10.20" fill="#0070C0" stroke="#2a2a2a" stroke-width="1.25"/>
<text x="196.0" y="256.65" font-size="7.7" textLength="24.0" lengthAdjust="spacingAndGlyphs" fill="#000">30-70%</text>
<rect x="185.85" y="259.15" width="8.10" height="10.20" fill="#92D050" stroke="#2a2a2a" stroke-width="1.25"/>
<text x="196.0" y="266.85" font-size="7.7" textLength="17.5" lengthAdjust="spacingAndGlyphs" fill="#000">&gt;70%</text>
<text x="238.3" y="233.80" font-size="7.5" font-weight="bold" textLength="36.5" lengthAdjust="spacingAndGlyphs" fill="#111">Initial WBC</text>
<rect x="246.05" y="238.75" width="8.10" height="10.20" fill="#FFC000" stroke="#2a2a2a" stroke-width="1.25"/>
<text x="256.2" y="246.45" font-size="7.7" textLength="19.5" lengthAdjust="spacingAndGlyphs" fill="#000">&lt;3000</text>
<rect x="246.05" y="248.95" width="8.10" height="10.20" fill="#0070C0" stroke="#2a2a2a" stroke-width="1.25"/>
<text x="256.2" y="256.65" font-size="7.7" textLength="42.3" lengthAdjust="spacingAndGlyphs" fill="#000">3000 - 10000</text>
<rect x="246.05" y="259.15" width="8.10" height="10.20" fill="#92D050" stroke="#2a2a2a" stroke-width="1.25"/>
<text x="256.2" y="266.85" font-size="7.7" textLength="25.8" lengthAdjust="spacingAndGlyphs" fill="#000">&gt; 10000</text>
<text x="298.1" y="233.80" font-size="7.5" font-weight="bold" textLength="55.7" lengthAdjust="spacingAndGlyphs" fill="#111">FAB classification</text>
<rect x="313.35" y="238.75" width="8.10" height="10.20" fill="#5E4A90" stroke="#2a2a2a" stroke-width="1.25"/>
<text x="324.0" y="246.45" font-size="7.7" textLength="9.2" lengthAdjust="spacingAndGlyphs" fill="#000">M0</text>
<rect x="313.35" y="248.95" width="8.10" height="10.20" fill="#FFC000" stroke="#2a2a2a" stroke-width="1.25"/>
<text x="324.0" y="256.65" font-size="7.7" textLength="9.2" lengthAdjust="spacingAndGlyphs" fill="#000">M1</text>
<rect x="313.35" y="259.15" width="8.10" height="10.20" fill="#0070C0" stroke="#2a2a2a" stroke-width="1.25"/>
<text x="324.0" y="266.85" font-size="7.7" textLength="9.2" lengthAdjust="spacingAndGlyphs" fill="#000">M2</text>
<rect x="313.35" y="269.35" width="8.10" height="10.20" fill="#92D050" stroke="#2a2a2a" stroke-width="1.25"/>
<text x="324.0" y="277.05" font-size="7.7" textLength="9.2" lengthAdjust="spacingAndGlyphs" fill="#000">M3</text>
<rect x="313.35" y="279.55" width="8.10" height="10.20" fill="#ADADAD" stroke="#2a2a2a" stroke-width="1.25"/>
<text x="324.0" y="287.25" font-size="7.7" textLength="9.2" lengthAdjust="spacingAndGlyphs" fill="#000">M4</text>
<rect x="313.35" y="289.75" width="8.10" height="10.20" fill="#FFFF00" stroke="#2a2a2a" stroke-width="1.25"/>
<text x="324.0" y="297.45" font-size="7.7" textLength="9.2" lengthAdjust="spacingAndGlyphs" fill="#000">M5</text>
<text x="366.2" y="233.80" font-size="7.5" font-weight="bold" textLength="60.7" lengthAdjust="spacingAndGlyphs" fill="#111">WHO classification</text>
<rect x="373.35" y="238.75" width="8.10" height="10.20" fill="#FFC000" stroke="#2a2a2a" stroke-width="1.25"/>
<text x="383.6" y="246.45" font-size="7.7" textLength="26.0" lengthAdjust="spacingAndGlyphs" fill="#000">AMLETO</text>
<rect x="373.35" y="248.95" width="8.10" height="10.20" fill="#0070C0" stroke="#2a2a2a" stroke-width="1.25"/>
<text x="383.6" y="256.65" font-size="7.7" textLength="17.0" lengthAdjust="spacingAndGlyphs" fill="#000">inv16</text>
<rect x="373.35" y="259.15" width="8.10" height="10.20" fill="#92D050" stroke="#2a2a2a" stroke-width="1.25"/>
<text x="383.6" y="266.85" font-size="7.7" textLength="11.5" lengthAdjust="spacingAndGlyphs" fill="#000">APL</text>
<rect x="373.35" y="269.35" width="8.10" height="10.20" fill="#ADADAD" stroke="#2a2a2a" stroke-width="1.25"/>
<text x="383.6" y="277.05" font-size="7.7" textLength="28.8" lengthAdjust="spacingAndGlyphs" fill="#000">NK-FLT3-</text>
<rect x="373.35" y="279.55" width="8.10" height="10.20" fill="#FFFF00" stroke="#2a2a2a" stroke-width="1.25"/>
<text x="383.6" y="287.25" font-size="7.7" textLength="29.8" lengthAdjust="spacingAndGlyphs" fill="#000">NK-FLT3+</text>
<rect x="373.35" y="289.75" width="8.10" height="10.20" fill="#FAC090" stroke="#2a2a2a" stroke-width="1.25"/>
<text x="383.6" y="297.45" font-size="7.7" textLength="19.3" lengthAdjust="spacingAndGlyphs" fill="#000">Others</text>
<text x="442.7" y="233.80" font-size="7.5" font-weight="bold" textLength="52.3" lengthAdjust="spacingAndGlyphs" fill="#111">CR achievement</text>
<rect x="441.65" y="238.75" width="8.10" height="10.20" fill="#FFC000" stroke="#2a2a2a" stroke-width="1.25"/>
<text x="451.7" y="246.45" font-size="7.7" textLength="39.8" lengthAdjust="spacingAndGlyphs" fill="#000">1st induction</text>
<rect x="441.65" y="248.95" width="8.10" height="10.20" fill="#0070C0" stroke="#2a2a2a" stroke-width="1.25"/>
<text x="451.7" y="256.65" font-size="7.7" textLength="56.3" lengthAdjust="spacingAndGlyphs" fill="#000">more than 2 times</text>
<text x="76.3" y="277.40" font-size="7.5" font-weight="bold" textLength="26.4" lengthAdjust="spacingAndGlyphs" fill="#111">Allo-SCT</text>
<rect x="74.85" y="279.55" width="8.10" height="10.20" fill="#FFC000" stroke="#2a2a2a" stroke-width="1.25"/>
<text x="85.0" y="287.25" font-size="7.7" textLength="42.3" lengthAdjust="spacingAndGlyphs" fill="#000">Received BMT</text>
<rect x="74.85" y="289.75" width="8.10" height="10.20" fill="#5E4A90" stroke="#2a2a2a" stroke-width="1.25"/>
<text x="85.0" y="297.45" font-size="7.7" textLength="32.3" lengthAdjust="spacingAndGlyphs" fill="#000">No receive</text>
<text x="153.1" y="277.40" font-size="7.5" font-weight="bold" textLength="42.3" lengthAdjust="spacingAndGlyphs" fill="#111">DFS duration</text>
<rect x="159.65" y="279.55" width="8.10" height="10.20" fill="#FFC000" stroke="#2a2a2a" stroke-width="1.25"/>
<text x="170.2" y="287.25" font-size="7.7" textLength="17.9" lengthAdjust="spacingAndGlyphs" fill="#000">Cured</text>
<rect x="159.65" y="289.75" width="8.10" height="10.20" fill="#0070C0" stroke="#2a2a2a" stroke-width="1.25"/>
<text x="170.2" y="297.45" font-size="7.7" textLength="39.4" lengthAdjust="spacingAndGlyphs" fill="#000">Short relapse</text>
<rect x="159.65" y="299.95" width="8.10" height="10.20" fill="#92D050" stroke="#2a2a2a" stroke-width="1.25"/>
<text x="170.2" y="307.65" font-size="7.7" textLength="52.5" lengthAdjust="spacingAndGlyphs" fill="#000">Late relapse (1Yr)</text>
<text x="229.6" y="277.40" font-size="7.5" font-weight="bold" textLength="38.9" lengthAdjust="spacingAndGlyphs" fill="#111">OS duration</text>
<rect x="228.15" y="279.55" width="8.10" height="10.20" fill="#0070C0" stroke="#2a2a2a" stroke-width="1.25"/>
<text x="238.7" y="287.25" font-size="7.7" textLength="32.8" lengthAdjust="spacingAndGlyphs" fill="#000">Early death</text>
<rect x="228.15" y="289.75" width="8.10" height="10.20" fill="#FFC000" stroke="#2a2a2a" stroke-width="1.25"/>
<text x="238.7" y="297.45" font-size="7.7" textLength="38.0" lengthAdjust="spacingAndGlyphs" fill="#000">Long survive</text>
</svg>
</body></html>
